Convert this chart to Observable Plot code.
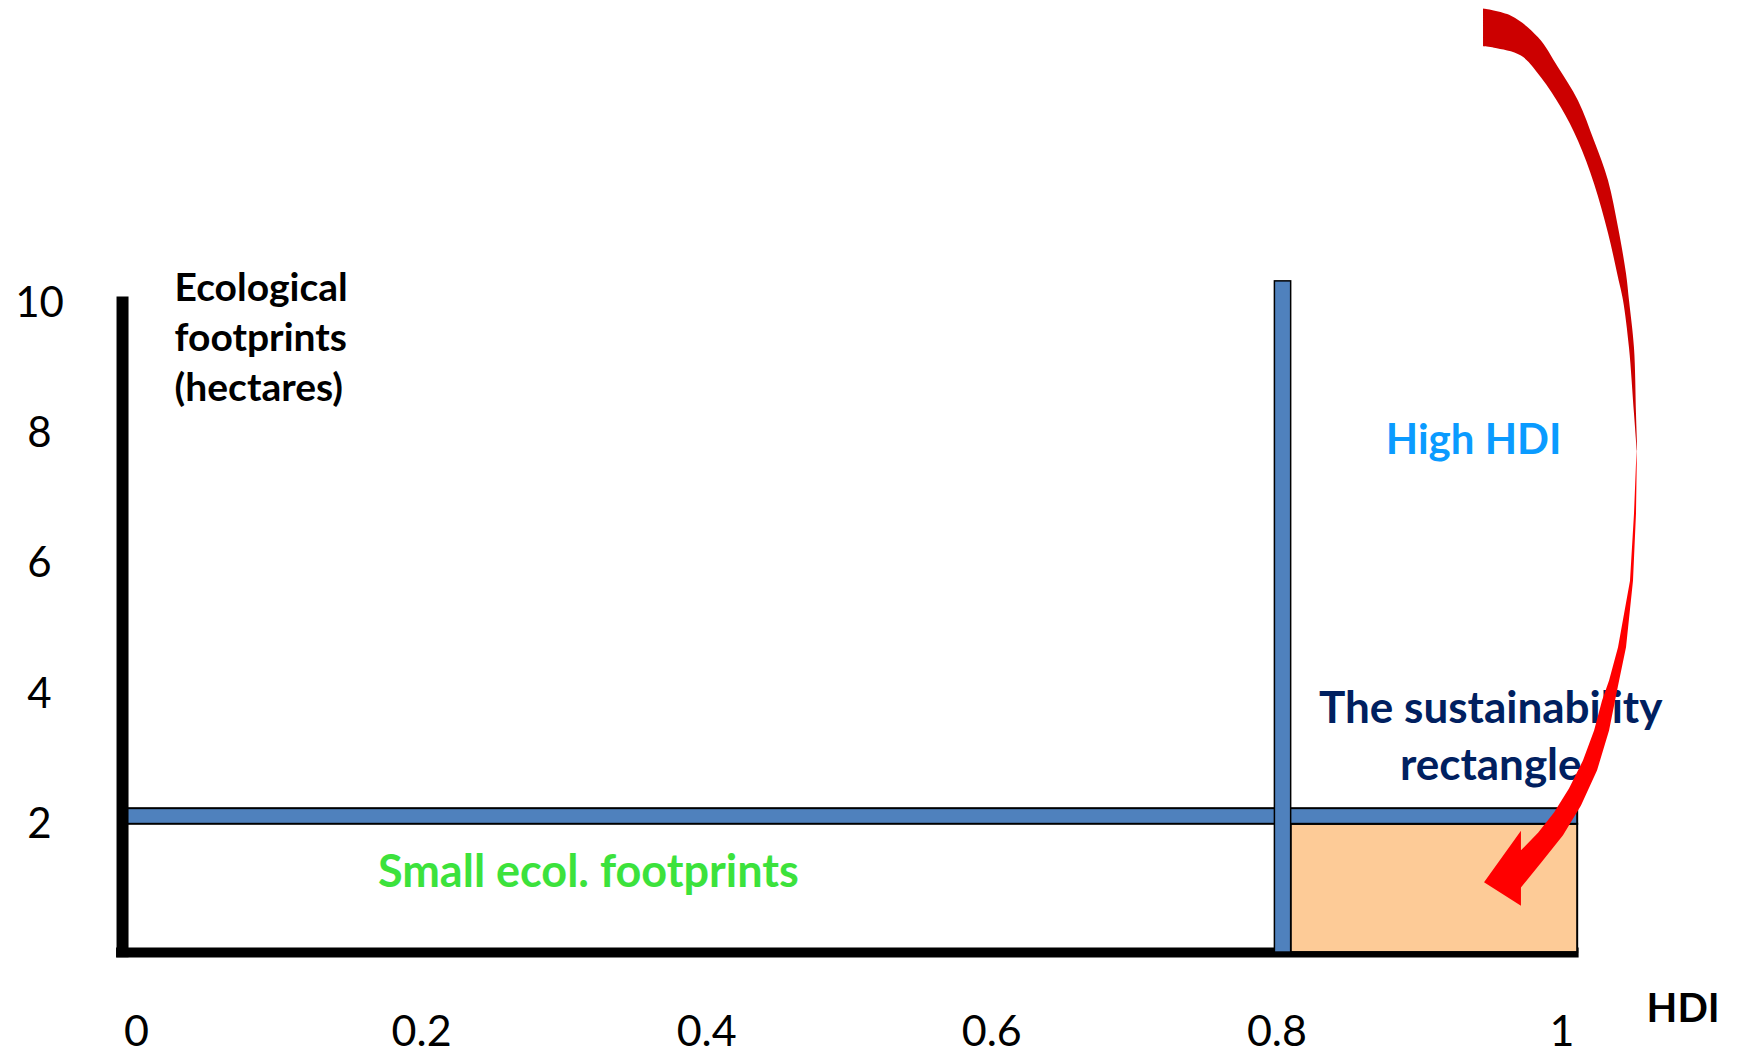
<!DOCTYPE html>
<html>
<head>
<meta charset="utf-8">
<script src="https://cdn.jsdelivr.net/npm/d3@7"></script>
<script src="https://cdn.jsdelivr.net/npm/@observablehq/plot@0.6"></script>
<style>
  html, body { margin: 0; padding: 0; background: #fff; overflow: hidden; }
</style>
</head>
<body>
<div id="chart"></div>
<script>
// ---- axis ticks ----
const hdiTicks = [0, 0.2, 0.4, 0.6, 0.8, 1];
const footprintTicks = [2, 4, 6, 8, 10];

// ---- thresholds (HDI 0.8, footprint ~2 ha) ----
const hdiBand = [0.7986, 0.81];          // vertical blue bar (HDI)
const hdiBandTop = 10.34;
const footprintBand = [2.0, 2.24];       // horizontal blue bar (footprint)
const hdiMax = 1.011;
const footprintFloor = 0.03;

// ---- axes lines ----
const axisXStart = -0.0098;
const axisYTop = 10.1;

// ---- annotation texts ----
const labelTexts = ["Ecological\nfootprints\n(hectares)", "High HDI", "The sustainability\nrectangle", "Small ecol. footprints", "HDI"];
const labelHDI = [0.0267, 0.938, 0.950, 0.317, 1.085];
const labelFoot = [9.51, 7.90, 3.40, 1.26, -0.845];

// ---- curved arrow outline (HDI, footprint) ----
const arrowBackHDI = [0.9446,0.9642,0.9832,0.9972,1.0112,1.0225,1.0323,1.0393,1.0449,1.0470,1.0505,1.0519,1.0526,
                      1.0505,1.0470,1.0428,1.0393,1.0323,1.0225,1.0112,0.9993,0.9853,0.9712,0.9523,0.9446];
const arrowBackFoot = [14.53,14.42,14.09,13.63,13.12,12.50,11.89,11.17,10.46,10.05,9.32,8.31,7.74,
                       8.31,9.32,10.05,10.40,11.08,11.84,12.50,13.01,13.47,13.81,13.93,13.95];
const arrowFrontHDI = [1.0526,1.0519,1.0498,1.0449,1.0393,1.0330,1.0246,1.0133,1.0007,0.9853,0.9712,
                       0.9712,0.9453,0.9712,0.9712,
                       0.9832,0.9944,1.0049,1.0147,1.0225,1.0281,1.0330,1.0393,1.0477,1.0505,1.0519];
const arrowFrontFoot = [7.79,6.77,5.74,4.72,4.13,3.44,2.83,2.29,1.83,1.41,1.03,
                        0.75,1.11,1.90,1.60,
                        1.87,2.18,2.55,2.98,3.44,3.90,4.21,4.72,5.74,6.77,7.54];

const arrowBack = arrowBackHDI.map((x, i) => ({x, y: arrowBackFoot[i]}));
const arrowFront = arrowFrontHDI.map((x, i) => ({x, y: arrowFrontFoot[i]}));
const labels = labelTexts.map((t, i) => ({t, x: labelHDI[i], y: labelFoot[i]}));

const FONT = "Lato, 'Open Sans', sans-serif";

const chart = Plot.plot({
  width: 1739,
  height: 1052,
  marginLeft: 136,
  marginRight: 177.5,
  marginTop: 303,
  marginBottom: 98,
  style: {fontFamily: FONT, background: "#fff", overflow: "visible"},
  x: {domain: [0, 1]},
  y: {domain: [0, 10]},
  marks: [
    // bottom axis line
    Plot.ruleY([footprintFloor], {x1: -0.014, x2: 1.012, stroke: "#000", strokeWidth: 10}),
    // sustainability rectangle
    Plot.rect([{}], {x1: hdiBand[1], x2: hdiMax, y1: footprintFloor, y2: footprintBand[0], fill: "#FDCB97", stroke: "#000", strokeWidth: 2}),
    // horizontal blue bar
    Plot.rect([{}], {x1: -0.0084, x2: hdiMax, y1: footprintBand[0], y2: footprintBand[1], fill: "#4F81BD", stroke: "#000", strokeWidth: 2}),
    // vertical blue bar
    Plot.rect([{}], {x1: hdiBand[0], x2: hdiBand[1], y1: footprintFloor, y2: hdiBandTop, fill: "#4F81BD", stroke: "#000", strokeWidth: 1.5}),
    // left axis line
    Plot.ruleX([axisXStart], {y1: -0.05, y2: axisYTop, stroke: "#000", strokeWidth: 12}),
    // axes labels
    Plot.axisY({ticks: footprintTicks, tickSize: 0, tickPadding: 97, textAnchor: "middle", fontSize: 42, label: null, fill: "#000"}),
    Plot.axisX({ticks: hdiTicks, tickFormat: d => String(d), tickSize: 0, tickPadding: 61, fontSize: 43, label: null, fill: "#000"}),
    // texts
    Plot.text(labels.slice(0, 1), {x: "x", y: "y", text: "t", textAnchor: "start", lineAnchor: "middle", lineHeight: 1.28, fontSize: 39, fontWeight: "bold", fill: "#000"}),
    Plot.text(labels.slice(1, 2), {x: "x", y: "y", text: "t", textAnchor: "middle", lineAnchor: "middle", fontSize: 42, fontWeight: "bold", fill: "#0A9BFF"}),
    Plot.text(labels.slice(2, 3), {x: "x", y: "y", text: "t", textAnchor: "middle", lineAnchor: "middle", lineHeight: 1.3, fontSize: 44, fontWeight: "bold", fill: "#002060"}),
    Plot.text(labels.slice(3, 4), {x: "x", y: "y", text: "t", textAnchor: "middle", lineAnchor: "middle", fontSize: 45, fontWeight: "bold", fill: "#3CE23C"}),
    Plot.text(labels.slice(4, 5), {x: "x", y: "y", text: "t", textAnchor: "middle", lineAnchor: "middle", fontSize: 40, fontWeight: "bold", fill: "#000"}),
    // curved arrow
    Plot.line(arrowBack, {x: "x", y: "y", fill: "#CC0000", stroke: "none", curve: "catmull-rom"}),
    Plot.line(arrowFront, {x: "x", y: "y", fill: "#FF0000", stroke: "none", curve: "linear"})
  ]
});
document.getElementById("chart").appendChild(chart);
</script>
</body>
</html>
